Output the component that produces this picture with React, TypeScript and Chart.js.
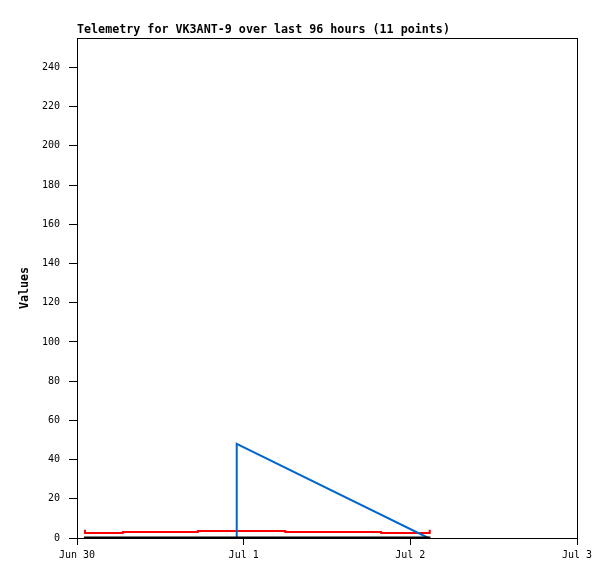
import React, { useEffect, useRef } from "react";
import { Chart, registerables } from "chart.js";

Chart.register(...registerables);

const TITLE = "Telemetry for VK3ANT-9 over last 96 hours (11 points)";
const Y_TITLE = "Values";

// x in hours since Jun 30 00:00
const xTickHours = [0, 24, 48, 72];
const xTickLabels = ["Jun 30", "Jul 1", "Jul 2", "Jul 3"];
const yTicks = [0, 20, 40, 60, 80, 100, 120, 140, 160, 180, 200, 220, 240];

const blackHours = [1.0, 50.9];
const blackValues = [0, 0];

const blueHours = [1.15, 23.0, 23.0, 50.6];
const blueValues = [0, 0, 48, 0];

const redHours = [1.15, 1.15, 6.6, 6.6, 17.4, 17.4, 30.0, 30.0, 43.8, 43.8, 50.8, 50.8];
const redValues = [4.2, 2.6, 2.6, 3.1, 3.1, 3.6, 3.6, 3.1, 3.1, 2.6, 2.6, 4.2];

const toPts = (xs: number[], ys: number[]) => xs.map((x, i) => ({ x, y: ys[i] }));

const FONT = "'DejaVu Sans Mono', 'Liberation Mono', monospace";

export default function App() {
  const ref = useRef<HTMLCanvasElement | null>(null);

  useEffect(() => {
    if (!ref.current) return;
    const framePlugin = {
      id: "frameAndTitle",
      afterDraw(chart: any) {
        const { ctx, chartArea } = chart;
        const { left, top, right, bottom } = chartArea;
        ctx.save();
        ctx.strokeStyle = "#000";
        ctx.lineWidth = 1;
        ctx.strokeRect(left + 0.5, top + 0.5, right - left, bottom - top);
        ctx.fillStyle = "#000";
        ctx.font = "bold 11.7px " + FONT;
        ctx.textAlign = "left";
        ctx.textBaseline = "alphabetic";
        ctx.fillText(TITLE, left, 33);
        ctx.restore();
      },
    };

    const chart = new Chart(ref.current, {
      type: "line",
      data: {
        datasets: [
          {
            data: toPts(blackHours, blackValues),
            borderColor: "#000000",
            borderWidth: 3,
            pointRadius: 0,
            tension: 0,
          },
          {
            data: toPts(blueHours, blueValues),
            borderColor: "#0066cc",
            borderWidth: 2,
            pointRadius: 0,
            tension: 0,
          },
          {
            data: toPts(redHours, redValues),
            borderColor: "#ff0000",
            borderWidth: 2,
            pointRadius: 0,
            tension: 0,
          },
        ],
      },
      options: {
        animation: false,
        responsive: false,
        devicePixelRatio: 1,
        layout: { padding: { top: 38, right: 38, bottom: 0, left: 0 } },
        plugins: {
          legend: { display: false },
          tooltip: { enabled: false },
          title: { display: false },
        },
        scales: {
          x: {
            type: "linear",
            min: 0,
            max: 72,
            afterBuildTicks: (scale: any) => {
              scale.ticks = xTickHours.map((v) => ({ value: v }));
            },
            afterFit: (scale: any) => {
              scale.height = 41;
            },
            border: { display: false },
            grid: {
              drawOnChartArea: false,
              drawTicks: true,
              tickLength: 7,
              color: "#000",
            },
            ticks: {
              color: "#000",
              font: { family: FONT, size: 10 },
              padding: 4,
              maxRotation: 0,
              autoSkip: false,
              callback: (v: any) => {
                const i = xTickHours.indexOf(Number(v));
                return i >= 0 ? xTickLabels[i] : "";
              },
            },
          },
          y: {
            min: 0,
            max: 255,
            afterBuildTicks: (scale: any) => {
              scale.ticks = yTicks.map((v) => ({ value: v }));
            },
            afterFit: (scale: any) => {
              scale.width = 77;
            },
            border: { display: false },
            grid: {
              drawOnChartArea: false,
              drawTicks: true,
              tickLength: 8,
              color: "#000",
            },
            ticks: {
              color: "#000",
              font: { family: FONT, size: 10 },
              padding: 9,
              autoSkip: false,
              callback: (v: any) => String(v),
            },
            title: {
              display: true,
              text: Y_TITLE,
              color: "#000",
              font: { family: FONT, size: 11.7, weight: "bold" },
              padding: { top: 18, bottom: 0 },
            },
          },
        },
      },
      plugins: [framePlugin],
    } as any);

    return () => chart.destroy();
  }, []);

  return (
    <div style={{ position: "fixed", left: 0, top: 0, width: 615, height: 579, background: "#fff" }}>
      <canvas ref={ref} width={615} height={579} style={{ display: "block" }} />
    </div>
  );
}
